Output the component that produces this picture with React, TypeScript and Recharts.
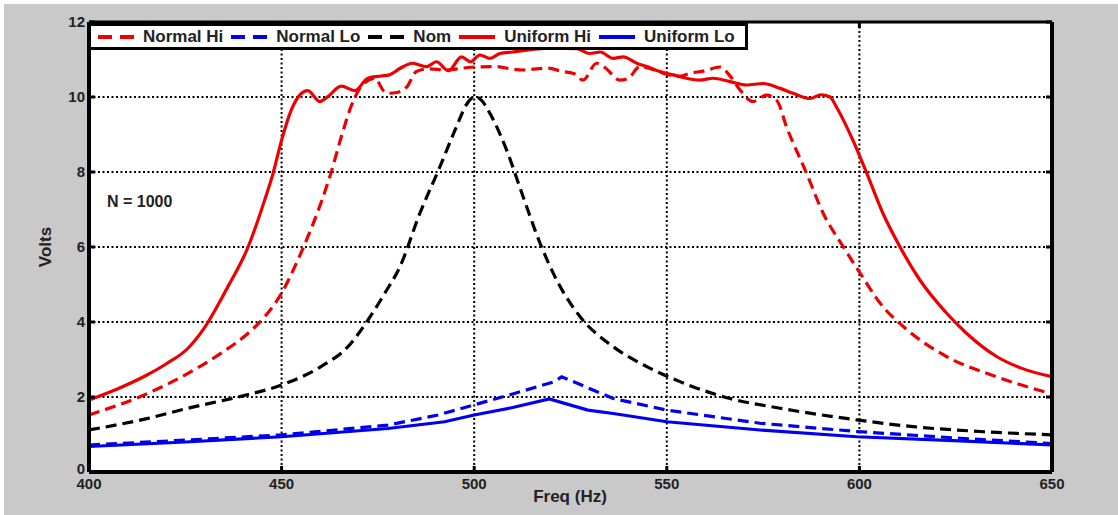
import React from 'react';
import { LineChart, Line, XAxis, YAxis, CartesianGrid } from 'recharts';

const xTicks = [400, 450, 500, 550, 600, 650];
const yTicks = [0, 2, 4, 6, 8, 10, 12];

const normalHiFreq = [400, 415.3, 425.7, 434.3, 441.3, 445.6, 450, 453.4, 456.8, 460.2, 462.8, 465.5, 468, 470.6, 474.2, 476.7, 478, 480, 482.5, 485, 488, 492.8, 497, 500, 505.8, 510, 512.7, 516, 518.8, 523, 526, 528.2, 531.8, 534, 537.8, 540, 543, 546, 550, 553, 556, 560, 563.8, 566.5, 569, 572.4, 575.9, 578.6, 581.1, 586.3, 590.6, 595.8, 600.2, 605.4, 612.3, 622.6, 635.6, 650];
const normalHiVolts = [1.52, 2.1, 2.63, 3.17, 3.7, 4.14, 4.77, 5.47, 6.27, 7.17, 7.97, 8.94, 9.74, 10.27, 10.5, 10.14, 10.1, 10.12, 10.27, 10.68, 10.75, 10.72, 10.77, 10.8, 10.81, 10.74, 10.72, 10.75, 10.77, 10.68, 10.62, 10.45, 10.9, 10.78, 10.45, 10.5, 10.81, 10.75, 10.6, 10.55, 10.63, 10.7, 10.8, 10.55, 10.19, 9.88, 10.05, 9.9, 9.2, 7.96, 6.9, 6.01, 5.3, 4.5, 3.8, 3.08, 2.54, 2.08];

const normalLoFreq = [400, 425, 450, 477.6, 490.6, 500, 510, 520.9, 522.7, 536.1, 550, 574.2, 599.3, 626.1, 650];
const normalLoVolts = [0.72, 0.85, 0.99, 1.25, 1.52, 1.79, 2.08, 2.41, 2.54, 1.96, 1.65, 1.3, 1.08, 0.9, 0.76];

const nomFreq = [400, 415.3, 425.7, 439.5, 450, 460.2, 467.2, 472.4, 476.8, 480.7, 485.9, 491.1, 495.4, 498, 500.2, 502, 504.1, 508.4, 512.7, 517.1, 521.4, 527.5, 536.1, 544.8, 553.4, 566.4, 579.4, 599.3, 613.9, 631.3, 650];
const nomVolts = [1.12, 1.43, 1.7, 2.02, 2.32, 2.81, 3.34, 4.05, 4.77, 5.47, 6.9, 8.14, 9.21, 9.8, 10.01, 9.9, 9.56, 8.59, 7.34, 6.1, 5.12, 4.14, 3.34, 2.81, 2.41, 1.96, 1.7, 1.39, 1.21, 1.08, 0.99];

const uniformHiFreq = [400, 407.5, 415.3, 420, 425.7, 430, 436, 441.3, 445.6, 447.8, 450, 452.5, 454.7, 456.8, 459.9, 462, 465.5, 469, 472.4, 475.8, 478, 480.7, 484, 487.6, 490.2, 493.3, 496.7, 499, 501.5, 504.1, 506.7, 510, 513.6, 520, 526.6, 530, 532.7, 536.1, 538.7, 542.2, 544.8, 548.2, 551.7, 555.1, 558.6, 562, 566.4, 570.7, 575, 579.4, 582.8, 587.2, 590, 592.4, 594, 598.3, 601.9, 606.1, 610.5, 615.7, 622.6, 627.8, 635.6, 642, 650];
const uniformHiVolts = [1.92, 2.22, 2.6, 2.88, 3.3, 3.85, 4.93, 6.0, 7.25, 7.97, 8.85, 9.65, 10.05, 10.17, 9.88, 10.01, 10.29, 10.17, 10.5, 10.56, 10.59, 10.76, 10.9, 10.81, 10.94, 10.7, 11.07, 10.94, 11.12, 11.03, 11.16, 11.2, 11.25, 11.3, 11.29, 11.16, 11.2, 11.03, 11.07, 10.9, 10.81, 10.68, 10.59, 10.5, 10.45, 10.5, 10.41, 10.32, 10.36, 10.23, 10.1, 9.96, 10.06, 10.0, 9.74, 8.85, 7.97, 6.9, 6.01, 5.12, 4.24, 3.7, 3.08, 2.77, 2.54];

const uniformLoFreq = [400, 425, 450, 477.6, 492.3, 500, 510, 519.5, 529.5, 536.1, 550, 574.2, 599.3, 626, 650];
const uniformLoVolts = [0.68, 0.8, 0.94, 1.16, 1.34, 1.52, 1.72, 1.95, 1.65, 1.56, 1.34, 1.12, 0.94, 0.83, 0.72];

const toPoints = (f: number[], v: number[]) => f.map((x, i) => ({ f: x, v: v[i] }));

const RED = '#ee0000';
const BLUE = '#0000ee';
const BLACK = '#000000';
const DASH = '11 6';

const series = [
  { name: 'Normal Hi', color: RED, dash: DASH, data: toPoints(normalHiFreq, normalHiVolts), type: 'monotone' },
  { name: 'Normal Lo', color: BLUE, dash: DASH, data: toPoints(normalLoFreq, normalLoVolts), type: 'linear' },
  { name: 'Nom', color: BLACK, dash: DASH, data: toPoints(nomFreq, nomVolts), type: 'monotone' },
  { name: 'Uniform Hi', color: RED, dash: undefined, data: toPoints(uniformHiFreq, uniformHiVolts), type: 'monotone' },
  { name: 'Uniform Lo', color: BLUE, dash: undefined, data: toPoints(uniformLoFreq, uniformLoVolts), type: 'linear' },
];

const FONT = '"Liberation Sans", Arial, Helvetica, sans-serif';

const BottomTick = (p: any) => (
  <g>
    <line x1={p.x} x2={p.x} y1={p.y} y2={p.y - 6} stroke="#000" strokeWidth={3} />
    <text x={p.x} y={p.y + 17} textAnchor="middle" fontFamily={FONT} fontWeight="bold" fontSize={15} fill="#222">
      {p.payload.value}
    </text>
  </g>
);
const TopTick = (p: any) => (
  <line x1={p.x} x2={p.x} y1={p.y} y2={p.y + 6} stroke="#000" strokeWidth={3} />
);
const LeftTick = (p: any) => (
  <g>
    <line x1={p.x} x2={p.x + 6} y1={p.y} y2={p.y} stroke="#000" strokeWidth={3} />
    <text x={p.x - 4} y={p.y} dy={p.payload.value === 0 ? '0.1em' : '0.36em'} textAnchor="end" fontFamily={FONT} fontWeight="bold" fontSize={15} fill="#222">
      {p.payload.value}
    </text>
  </g>
);
const RightTick = (p: any) => (
  <line x1={p.x} x2={p.x - 6} y1={p.y} y2={p.y} stroke="#000" strokeWidth={3} />
);

export default function App() {
  return (
    <div style={{ position: 'absolute', left: 0, top: 0, width: 1118, height: 515, background: '#fff', overflow: 'hidden' }}>
      <div style={{ position: 'absolute', left: 4, top: 4, width: 1114, height: 511, background: '#c9c9c9' }} />
      <div style={{ position: 'absolute', left: 0, top: 0 }}>
        <LineChart width={1118} height={515} margin={{ top: 0, right: 0, bottom: 0, left: 0 }}>
          <CartesianGrid
            xAxisId="b"
            yAxisId="l"
            fill="#fff"
            fillOpacity={1}
            stroke="#000"
            strokeWidth={2}
            strokeDasharray="2 2.5"
          />
          <XAxis xAxisId="b" orientation="bottom" height={43} type="number" dataKey="f" domain={[400, 650]} ticks={xTicks}
            interval={0} tickLine={false} tickSize={0} tickMargin={0} tick={BottomTick}
            axisLine={{ stroke: '#000', strokeWidth: 4 }} allowDataOverflow />
          <XAxis xAxisId="t" orientation="top" height={22} type="number" dataKey="f" domain={[400, 650]} ticks={xTicks}
            interval={0} tickLine={false} tickSize={0} tickMargin={0} tick={TopTick}
            axisLine={{ stroke: '#000', strokeWidth: 3 }} allowDataOverflow />
          <YAxis yAxisId="l" orientation="left" width={89} type="number" domain={[0, 12]} ticks={yTicks}
            interval={0} tickLine={false} tickSize={0} tickMargin={0} tick={LeftTick}
            axisLine={{ stroke: '#000', strokeWidth: 4 }} allowDataOverflow />
          <YAxis yAxisId="r" orientation="right" width={66} type="number" domain={[0, 12]} ticks={yTicks}
            interval={0} tickLine={false} tickSize={0} tickMargin={0} tick={RightTick}
            axisLine={{ stroke: '#000', strokeWidth: 4 }} allowDataOverflow />
          {series.map((s) => (
            <Line
              key={s.name}
              xAxisId="b"
              yAxisId="l"
              data={s.data}
              dataKey="v"
              name={s.name}
              type={s.type as any}
              stroke={s.color}
              strokeWidth={3.2}
              strokeDasharray={s.dash}
              dot={false}
              activeDot={false}
              isAnimationActive={false}
            />
          ))}
        </LineChart>
      </div>
      {/* Legend */}
      <div style={{
        position: 'absolute', left: 88, top: 23, width: 660, height: 27, boxSizing: 'border-box',
        border: '3px solid #000', background: '#fff', display: 'flex', alignItems: 'center', paddingLeft: 6,
        fontFamily: FONT, fontWeight: 'bold', fontSize: 17, color: '#222', whiteSpace: 'nowrap'
      }}>
        {series.map((s) => (
          <div key={s.name} style={{ display: 'flex', alignItems: 'center', marginRight: 7 }}>
            <svg width={38} height={10} style={{ marginRight: 8 }}>
              <line x1={1} x2={37} y1={5} y2={5} stroke={s.color} strokeWidth={4} strokeDasharray={s.dash ? '14 8' : undefined} />
            </svg>
            <span>{s.name}</span>
          </div>
        ))}
      </div>
      <div style={{ position: 'absolute', left: 107, top: 193, fontFamily: FONT, fontWeight: 'bold', fontSize: 16, color: '#222' }}>
        N = 1000
      </div>
      <div style={{ position: 'absolute', left: 570, top: 497, transform: 'translate(-50%, -50%)', fontFamily: FONT, fontWeight: 'bold', fontSize: 17, color: '#222', whiteSpace: 'nowrap' }}>
        Freq (Hz)
      </div>
      <div style={{ position: 'absolute', left: 46, top: 247, transform: 'translate(-50%, -50%) rotate(-90deg)', fontFamily: FONT, fontWeight: 'bold', fontSize: 17, color: '#222', whiteSpace: 'nowrap' }}>
        Volts
      </div>
    </div>
  );
}
